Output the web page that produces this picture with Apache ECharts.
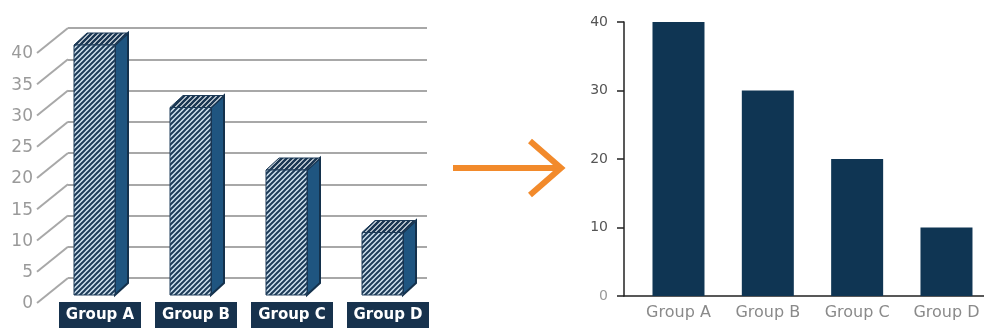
<!DOCTYPE html>
<html>
<head>
<meta charset="utf-8">
<script src="https://cdn.jsdelivr.net/npm/echarts@6/dist/echarts.min.js"></script>
<style>
  html, body { margin: 0; padding: 0; background: #fff; }
  #chart { width: 984px; height: 329px; }
</style>
</head>
<body>
<div id="chart"></div>
<script>
const categories = ["Group A", "Group B", "Group C", "Group D"];
const values = [40, 30, 20, 10];
const leftTicks = [0, 5, 10, 15, 20, 25, 30, 35, 40];

// hatch pattern for the 3d bars
function hatch(bg, fg, size, lw) {
  const c = document.createElement("canvas");
  c.width = size;
  c.height = size;
  const ctx = c.getContext("2d");
  ctx.fillStyle = bg;
  ctx.fillRect(0, 0, size, size);
  ctx.strokeStyle = fg;
  ctx.lineWidth = lw;
  ctx.beginPath();
  ctx.moveTo(-1, size + 1); ctx.lineTo(size + 1, -1);
  ctx.moveTo(-1, 1); ctx.lineTo(1, -1);
  ctx.moveTo(size - 1, size + 1); ctx.lineTo(size + 1, size - 1);
  ctx.stroke();
  return c;
}
const frontPattern = hatch("#cfe1ef", "#1d3b58", 5, 2);
const topPattern = hatch("#eef4f8", "#1a3652", 5, 2.6);

const NAVY = "#17324d";
const DX = 13, DY = -12;

const chart = echarts.init(document.getElementById("chart"));
chart.setOption({
  animation: false,
  backgroundColor: "#fff",
  grid: [
    { left: 68, right: 557, top: 28, bottom: 51 },
    { left: 52, right: 548, top: 45, bottom: 34 },
    { left: 624, right: 0, top: 22, bottom: 33 },
  ],
  xAxis: [
    { gridIndex: 0, type: "category", data: categories, show: false },
    {
      gridIndex: 1,
      type: "category",
      data: categories,
      axisLine: { show: false },
      axisTick: { show: false },
      axisLabel: {
        margin: 7,
        color: "#fff",
        fontFamily: "DejaVu Sans",
        fontWeight: "bold",
        fontSize: 15,
        backgroundColor: NAVY,
        width: 82,
        lineHeight: 16,
        padding: [5, 0, 5, 0],
        align: "center",
      },
    },
    {
      gridIndex: 2,
      type: "value",
      min: -0.61,
      max: 3.42,
      splitLine: { show: false },
      axisTick: { show: false },
      axisLine: { lineStyle: { color: "#222", width: 1.5 } },
      axisLabel: {
        customValues: [0, 1, 2, 3],
        formatter: (v) => categories[v],
        margin: 9,
        color: "#8a8a8a",
        fontFamily: "DejaVu Sans",
        fontSize: 16,
      },
    },
  ],
  yAxis: [
    {
      gridIndex: 0,
      type: "value",
      min: 0,
      max: 40,
      interval: 5,
      axisLine: { show: false },
      axisTick: { show: false },
      axisLabel: { show: false },
      splitLine: { lineStyle: { color: "#a8a8a8", width: 2 } },
    },
    { gridIndex: 1, type: "value", min: 0, max: 40, show: false },
    {
      gridIndex: 2,
      type: "value",
      min: 0,
      max: 40,
      interval: 10,
      splitLine: { show: false },
      axisLine: { show: true, onZero: false, lineStyle: { color: "#222", width: 1.5 } },
      axisTick: { show: true, length: 7, lineStyle: { color: "#222", width: 1.5 } },
      axisLabel: {
        margin: 16,
        color: (v) => (v == 0 ? "#9a9a9a" : "#555"),
        fontFamily: "DejaVu Sans",
        fontSize: 14,
      },
    },
  ],
  graphic: [
    {
      type: "polyline",
      shape: { points: [[453, 168], [561, 168]] },
      style: { stroke: "#f28a2b", lineWidth: 6, fill: null },
    },
    {
      type: "polyline",
      shape: { points: [[530, 141], [561, 168], [530, 195]] },
      style: { stroke: "#f28a2b", lineWidth: 6, fill: null, lineJoin: "miter" },
    },
  ],
  series: [
    {
      // front tick labels + diagonal connectors to the back wall
      type: "custom",
      xAxisIndex: 0,
      yAxisIndex: 0,
      data: leftTicks.map((v) => [0, v]),
      silent: true,
      renderItem: (params, api) => {
        const v = api.value(1);
        const y = api.coord([0, v])[1];
        const x = params.coordSys.x;
        return {
          type: "group",
          children: [
            {
              type: "line",
              shape: { x1: x - 31, y1: y + 25, x2: x, y2: y },
              style: { stroke: "#a8a8a8", lineWidth: 2 },
            },
            {
              type: "text",
              style: {
                text: String(v),
                x: x - 35,
                y: y + 26,
                align: "right",
                verticalAlign: "middle",
                fill: "#9a9a9a",
                font: "17px 'DejaVu Sans'",
              },
            },
          ],
        };
      },
    },
    {
      type: "custom",
      xAxisIndex: 1,
      yAxisIndex: 1,
      data: values.map((v, i) => [i, v]),
      renderItem: (params, api) => {
        const top = api.coord([api.value(0), api.value(1)]);
        const base = api.coord([api.value(0), 0]);
        const x0 = top[0] - 26, x1 = top[0] + 15;
        const yt = top[1], yb = base[1];
        return {
          type: "group",
          children: [
            {
              type: "polygon",
              shape: { points: [[x1, yt], [x1 + DX, yt + DY], [x1 + DX, yb + DY], [x1, yb]] },
              style: { fill: "#1f5580", stroke: "#14314c", lineWidth: 2 },
            },
            {
              type: "polygon",
              shape: { points: [[x0, yt], [x1, yt], [x1 + DX, yt + DY], [x0 + DX, yt + DY]] },
              style: { fill: { image: topPattern, repeat: "repeat" }, stroke: "#1d3b58", lineWidth: 1 },
            },
            {
              type: "rect",
              shape: { x: x0, y: yt, width: x1 - x0, height: yb - yt },
              style: { fill: { image: frontPattern, repeat: "repeat" }, stroke: "#1d3b58", lineWidth: 1 },
            },
          ],
        };
      },
    },
    {
      type: "bar",
      xAxisIndex: 2,
      yAxisIndex: 2,
      barWidth: 52,
      itemStyle: { color: "#0f3553" },
      data: values.map((v, i) => [i, v]),
    },
  ],
});
</script>
</body>
</html>
